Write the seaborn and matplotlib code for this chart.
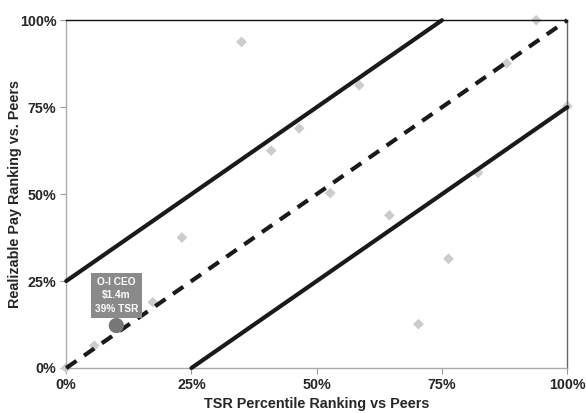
import numpy as np
import pandas as pd
import matplotlib
matplotlib.use('Agg')
import matplotlib.pyplot as plt
import seaborn as sns
from matplotlib.ticker import PercentFormatter

# peer companies (TSR percentile, realizable pay percentile)
peer_tsr = [0.0, 0.056, 0.173, 0.231, 0.350, 0.409, 0.465, 0.527, 0.585,
            0.645, 0.703, 0.763, 0.822, 0.879, 0.938, 1.0]
peer_pay = [0.0, 0.064, 0.189, 0.375, 0.9375, 0.625, 0.689, 0.503, 0.813,
            0.439, 0.126, 0.314, 0.561, 0.876, 1.0, 0.753]

ceo_tsr = [0.10]
ceo_pay = [0.122]
ceo_label = 'O-I CEO\n$1.4m\n39% TSR'

ref_x = [0.0, 1.0]
band_offsets = [0.25, -0.25]

peers = pd.DataFrame({'tsr': peer_tsr, 'pay': peer_pay})

sns.set_style('white')
plt.rcParams['font.family'] = ['Liberation Sans', 'DejaVu Sans']
plt.rcParams['font.weight'] = 'bold'

fig, ax = plt.subplots(figsize=(5.86, 4.13), dpi=100)
fig.subplots_adjust(left=0.113, right=0.968, top=0.951, bottom=0.109)

sns.scatterplot(data=peers, x='tsr', y='pay', marker='D', s=30, color='#cccccc',
                edgecolor='none', ax=ax, zorder=2, clip_on=False)

# reference lines
sns.lineplot(x=ref_x, y=ref_x, color='#1a1a1a', lw=3.0, ls=(0, (3.0, 2.2)), ax=ax,
             zorder=3, clip_on=False)
for off in band_offsets:
    xs = np.array([max(0, -off), min(1, 1 - off)])
    sns.lineplot(x=xs, y=xs + off, color='#1a1a1a', lw=3.0, ax=ax, zorder=3,
                 clip_on=False)

sns.scatterplot(x=ceo_tsr, y=ceo_pay, s=120, color='#777777', edgecolor='none',
                ax=ax, zorder=4)
ax.text(ceo_tsr[0], ceo_pay[0] + 0.087, ceo_label, ha='center', va='center',
        color='white', fontsize=7.3, fontweight='bold', linespacing=1.4,
        bbox=dict(boxstyle='square,pad=0.4', fc='#8a8a8a', ec='none'), zorder=5)

ax.set_xlim(0, 1)
ax.set_ylim(0, 1)
ticks = [0, 0.25, 0.5, 0.75, 1.0]
ax.set_xticks(ticks)
ax.set_yticks(ticks)
ax.xaxis.set_major_formatter(PercentFormatter(1.0, decimals=0))
ax.yaxis.set_major_formatter(PercentFormatter(1.0, decimals=0))
ax.tick_params(axis='both', labelsize=10.3, length=4, width=0.8, color='#999999',
               bottom=True, left=True, pad=3)
for lab in ax.get_xticklabels() + ax.get_yticklabels():
    lab.set_fontweight('bold')

ax.spines['left'].set_color('#aaaaaa')
ax.spines['bottom'].set_color('#aaaaaa')
ax.spines['right'].set_color('#666666')
ax.spines['top'].set_color('#111111')
for sp in ax.spines.values():
    sp.set_linewidth(1.0)

ax.set_xlabel('TSR Percentile Ranking vs Peers', fontsize=10.4, fontweight='bold',
              labelpad=4)
ax.set_ylabel('Realizable Pay Ranking vs. Peers', fontsize=10.4, fontweight='bold')
ax.yaxis.set_label_coords(-0.088, 0.5)

fig.savefig('out.png', dpi=100)
